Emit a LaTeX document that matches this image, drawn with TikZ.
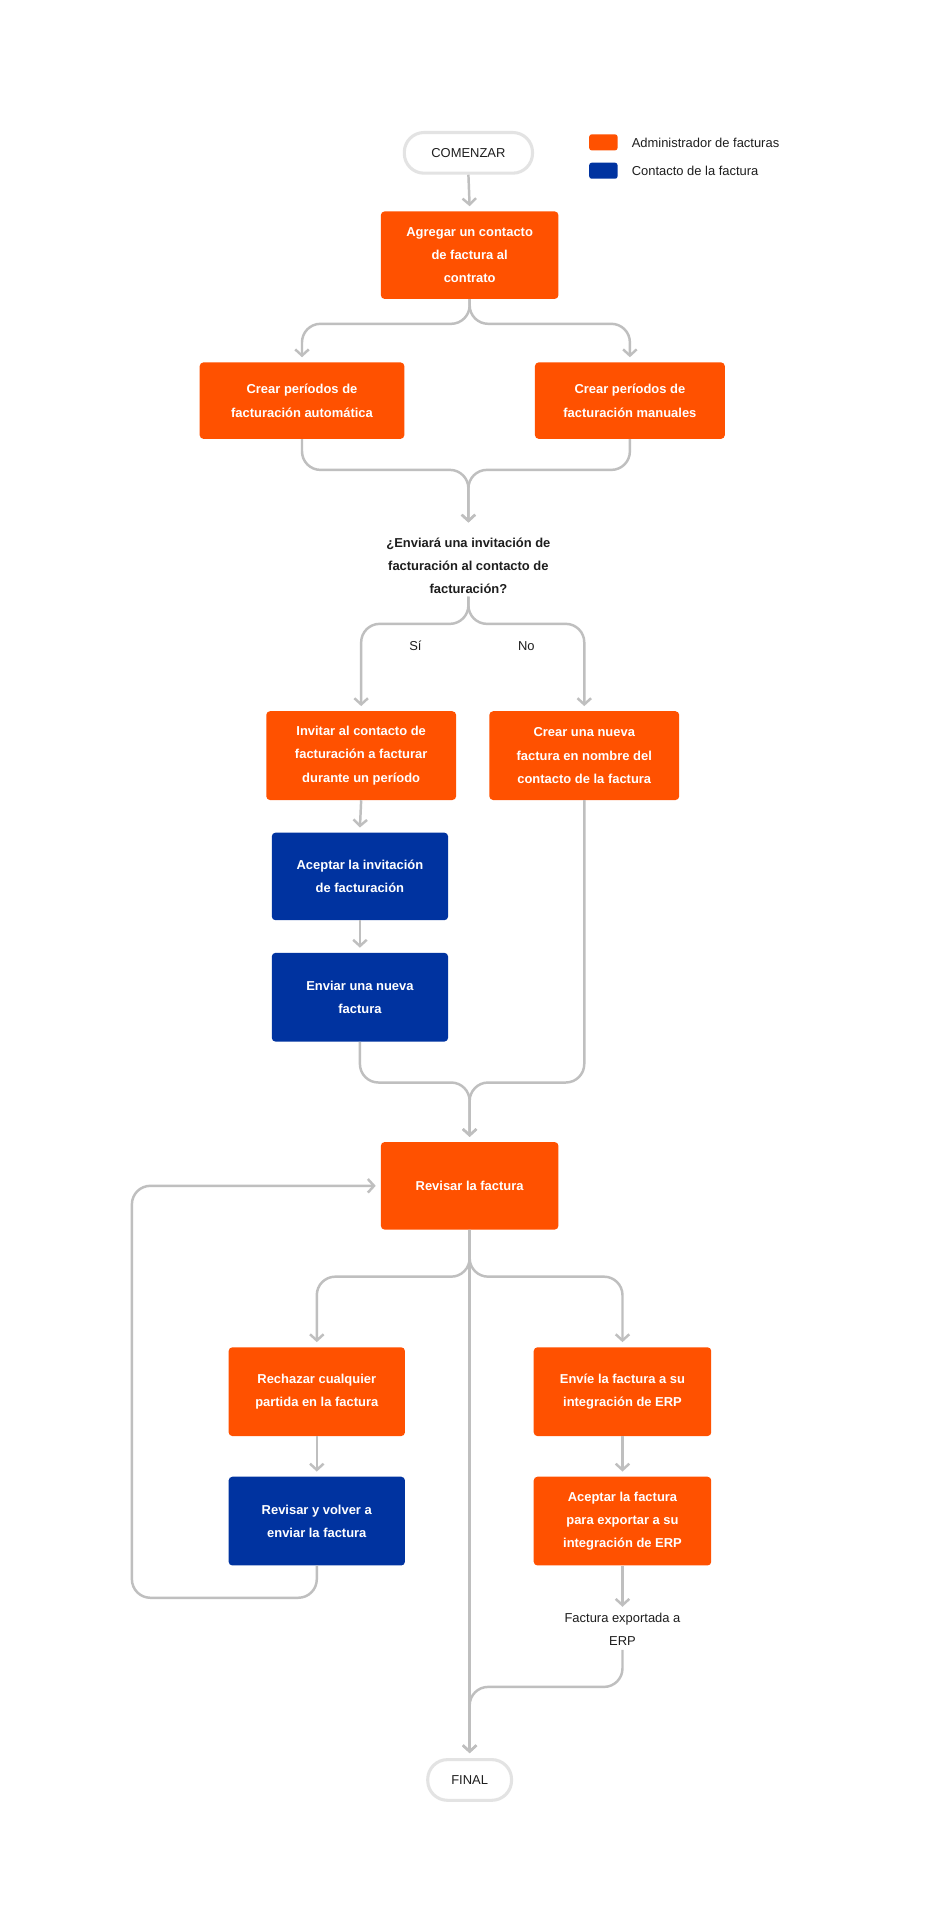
\documentclass[tikz,border=0pt]{standalone}
\usepackage{fontspec}
\setmainfont{Liberation Sans}
\usetikzlibrary{arrows.meta,calc}
\definecolor{org}{HTML}{FF5100}
\definecolor{blu}{HTML}{0033A0}
\definecolor{ln}{HTML}{BFBFBF}
\definecolor{pill}{HTML}{E3E3E3}
\definecolor{txt}{HTML}{1E1E1E}
\begin{document}
\begin{tikzpicture}[x=1pt,y=-1pt,
 box/.style={draw=none,rounded corners=3,text=white,font=\fontsize{10.5}{19}\selectfont\bfseries,align=center,inner sep=0pt},
 ob/.style={box,fill=org},
 bb/.style={box,fill=blu},
 pl/.style={draw=pill,line width=2.5pt,fill=white,rounded corners=16,minimum height=33,font=\fontsize{10.5}{13}\selectfont,text=txt},
 cn/.style={draw=ln,line width=2pt,rounded corners=15},
 ar/.style={cn,-{Straight Barb[length=5pt,width=11pt,line width=2pt]}},
 lab/.style={font=\fontsize{10.5}{19}\selectfont,text=txt,align=center}]
\useasboundingbox (0,0) rectangle (768,1556);
\fill[white] (0,0) rectangle (768,1556);
% legend
\fill[org,rounded corners=2] (478,109) rectangle (501,122);
\fill[blu,rounded corners=2] (478,132) rectangle (501,145);
\node[lab,anchor=west] (l1) at (509,116) {Administrador de facturas};
\node[lab,anchor=west] (l2) at (509,139) {Contacto de la factura};
% nodes
\node[pl,minimum width=104] (start) at (380,124) {COMENZAR};
\node[ob,minimum width=144,minimum height=71] (agr) at (381,207) {Agregar un contacto\\de factura al\\contrato};
\node[ob,minimum width=166,minimum height=62] (auto) at (245,325) {Crear períodos de\\facturación automática};
\node[ob,minimum width=154,minimum height=62] (man) at (511,325) {Crear períodos de\\facturación manuales};
\node[lab,font=\fontsize{10.5}{19}\selectfont\bfseries,inner sep=2pt] (q) at (380,459) {¿Enviará una invitación de\\facturación al contacto de\\facturación?};
\node[ob,minimum width=154,minimum height=72] (inv) at (293,613) {Invitar al contacto de\\facturación a facturar\\durante un período};
\node[ob,minimum width=154,minimum height=72] (nue) at (474,613) {Crear una nueva\\factura en nombre del\\contacto de la factura};
\node[bb,minimum width=143,minimum height=71] (acep) at (292,711) {Aceptar la invitación\\de facturación};
\node[bb,minimum width=143,minimum height=72] (env) at (292,809) {Enviar una nueva\\factura};
\node[ob,minimum width=144,minimum height=71] (rev) at (381,962) {Revisar la factura};
\node[ob,minimum width=143,minimum height=72] (rech) at (257,1129) {Rechazar cualquier\\partida en la factura};
\node[bb,minimum width=143,minimum height=72] (rev2) at (257,1234) {Revisar y volver a\\enviar la factura};
\node[ob,minimum width=144,minimum height=72] (erp) at (505,1129) {Envíe la factura a su\\integración de ERP};
\node[ob,minimum width=144,minimum height=72] (exp) at (505,1234) {Aceptar la factura\\para exportar a su\\integración de ERP};
\node[lab,inner sep=3pt] (fx) at (505,1322) {Factura exportada a\\ERP};
\node[pl,minimum width=68] (fin) at (381,1444) {FINAL};
% connectors
\draw[ar] (start.south) -- ($(agr.north)+(0,-4)$);
\draw[ar] (agr.south) -- ++(0,20) -| ($(auto.north)+(0,-4)$);
\draw[ar] (agr.south) -- ++(0,20) -| ($(man.north)+(0,-4)$);
\draw[ar] (auto.south) -- ++(0,25) -| ($(q.north)+(0,-10)$);
\draw[ar] (man.south) -- ++(0,25) -| ($(q.north)+(0,-10)$);
\draw[ar] (q.south) -- ++(0,22) -| ($(inv.north)+(0,-4)$);
\draw[ar] (q.south) -- ++(0,22) -| ($(nue.north)+(0,-4)$);
\node[lab,fill=white,inner sep=3pt] (si) at (337,524) {Sí};
\node[lab,fill=white,inner sep=3pt] (no) at (427,524) {No};
\draw[ar] (inv.south) -- ($(acep.north)+(0,-4)$);
\draw[ar] (acep.south) -- ($(env.north)+(0,-4)$);
\draw[ar] (env.south) -- ++(0,33) -| ($(rev.north)+(0,-4)$);
\draw[ar] (nue.south) -- ++(0,229) -| ($(rev.north)+(0,-4)$);
\draw[ar] (rev.south) -- ++(0,38) -| ($(rech.north)+(0,-4)$);
\draw[ar] (rev.south) -- ++(0,38) -| ($(erp.north)+(0,-4)$);
\draw[ar] (rech.south) -- ($(rev2.north)+(0,-4)$);
\draw[ar] (erp.south) -- ($(exp.north)+(0,-4)$);
\draw[ar] (exp.south) -- ($(fx.north)+(0,-2)$);
\draw[ar] (rev2.south) -- ++(0,26) -- ++(-150,0) |- ($(rev.west)+(-4,0)$);
\draw[ar] (rev.south) -- ($(fin.north)+(0,-4)$);
\draw[ar] (fx.south) -- ++(0,30) -| ($(fin.north)+(0,-4)$);
\end{tikzpicture}
\end{document}
